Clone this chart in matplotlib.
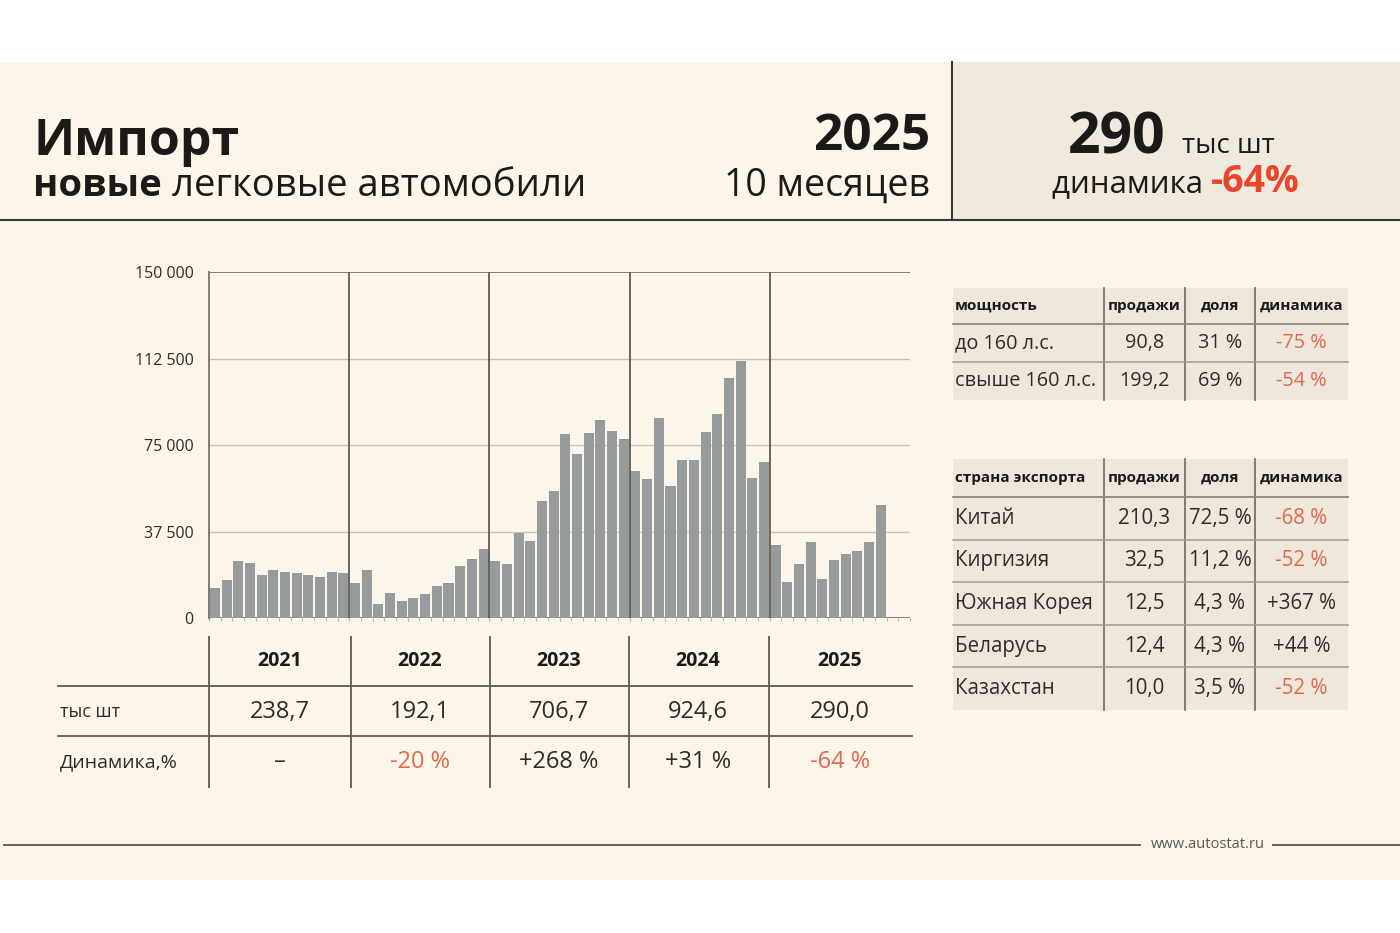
import numpy as np
import matplotlib.pyplot as plt
from matplotlib.lines import Line2D
from matplotlib.patches import Rectangle

plt.rcParams["font.family"] = ["Open Sans", "DejaVu Sans"]

# monthly import of new passenger cars, units
m2021 = [13100, 16300, 24600, 24000, 18800, 20700, 20100, 19400, 18500, 17800, 19800, 19400]
m2022 = [15300, 21000, 6000, 10700, 7400, 8500, 10300, 13900, 15300, 22400, 25700, 29900]
m2023 = [24900, 23500, 36800, 33400, 50800, 54900, 79700, 70900, 80200, 86000, 81000, 77600]
m2024 = [63700, 60100, 86500, 57200, 68400, 68500, 80800, 88400, 103900, 111500, 60900, 67500]
m2025 = [31500, 15700, 23400, 33000, 17000, 25200, 27800, 28900, 33000, 48900]
monthly = m2021 + m2022 + m2023 + m2024 + m2025

y_ticks = [0, 37500, 75000, 112500, 150000]
y_labels = ["0", "37 500", "75 000", "112 500", "150 000"]

years = ["2021", "2022", "2023", "2024", "2025"]
year_totals = ["238,7", "192,1", "706,7", "924,6", "290,0"]
year_dyn = ["–", "-20 %", "+268 %", "+31 %", "-64 %"]

power_header = ["мощность", "продажи", "доля", "динамика"]
power_rows = [
    ["до 160 л.с.", "90,8", "31 %", "-75 %"],
    ["свыше 160 л.с.", "199,2", "69 %", "-54 %"],
]

country_header = ["страна экспорта", "продажи", "доля", "динамика"]
country_rows = [
    ["Китай", "210,3", "72,5 %", "-68 %"],
    ["Киргизия", "32,5", "11,2 %", "-52 %"],
    ["Южная Корея", "12,5", "4,3 %", "+367 %"],
    ["Беларусь", "12,4", "4,3 %", "+44 %"],
    ["Казахстан", "10,0", "3,5 %", "-52 %"],
]

CREAM = "#fcf5e9"
BEIGE = "#f0e9dd"
CELL = "#efe7db"
BAR = "#979b9c"
DARK = "#1b1a18"
TXT = "#2e2c2a"
RED = "#e8452c"
RED_SOFT = "#e2684f"
LINE = "#5d5a55"

W, H = 1400, 933
fig = plt.figure(figsize=(14, 9.33), dpi=100)
fig.patch.set_facecolor("white")
renderer = fig.canvas.get_renderer()


def fx(x):
    return x / W


def fy(y):
    return 1 - y / H


def hline(x0, x1, y, color=LINE, lw=1.3):
    fig.add_artist(Line2D([fx(x0), fx(x1)], [fy(y), fy(y)], color=color, lw=lw,
                          transform=fig.transFigure))


def vline(x, y0, y1, color=LINE, lw=1.3):
    fig.add_artist(Line2D([fx(x), fx(x)], [fy(y0), fy(y1)], color=color, lw=lw,
                          transform=fig.transFigure))


def rect(x0, y0, x1, y1, color):
    fig.add_artist(Rectangle((fx(x0), fy(y1)), (x1 - x0) / W, (y1 - y0) / H,
                             transform=fig.transFigure, color=color, lw=0, zorder=0))


def text(x, y, s, **kw):
    kw.setdefault("color", TXT)
    return fig.text(fx(x), fy(y), s, **kw)


def after(prev, y, s, gap=0, **kw):
    # continue on the same baseline right after another text
    bb = prev.get_window_extent(renderer)
    return text(bb.x1 + gap, y, s, va="baseline", **kw)


# background panels
rect(0, 62, W, 880, CREAM)
rect(952, 62, W, 220, BEIGE)
hline(0, W, 220, color="#3a3835", lw=1.5)
vline(952, 62, 220, color="#3a3835", lw=1.5)

# header
text(33, 155, "Импорт", fontsize=36, fontweight="bold", color=DARK, va="baseline")
t = text(33, 196, "новые ", fontsize=27.5, fontweight="bold", color=DARK, va="baseline")
after(t, 196, "легковые автомобили", fontsize=27.5, color=DARK)
text(930, 150, "2025", fontsize=37, fontweight="bold", color=DARK, ha="right", va="baseline")
text(930, 196, "10 месяцев", fontsize=27, color=DARK, ha="right", va="baseline")

t = text(1068, 153, "290", fontsize=41, fontweight="bold", color=DARK, va="baseline")
after(t, 153, "тыс шт", gap=16, fontsize=20, color=DARK)
t = text(1052, 192, "динамика ", fontsize=22.5, color=DARK, va="baseline")
after(t, 192, "-64%", fontsize=27, fontweight="bold", color=RED)

# bar chart
ax = fig.add_axes([fx(209), fy(618), 701 / W, 346 / H])
ax.set_facecolor("none")
x = np.arange(len(monthly))
ax.bar(x, monthly, width=0.86, color=BAR, zorder=2)
ax.set_xlim(-0.5, 59.5)
ax.set_ylim(0, 150000)
ax.set_yticks(y_ticks)
ax.set_yticklabels(y_labels, fontsize=11.5, color=TXT)
ax.set_xticks(np.arange(-0.5, 60, 1))
ax.set_xticklabels([])
ax.tick_params(axis="y", length=0, pad=11)
ax.tick_params(axis="x", length=2, color="#b9b3a8", width=0.8)
for v in y_ticks[1:-1]:
    ax.axhline(v, color="#c9c2b6", lw=1.0, zorder=1)
ax.axhline(150000, color="#77736c", lw=1.3, zorder=1)
ax.axhline(0, color="#77736c", lw=1.3, zorder=1)
for b in [11.5, 23.5, 35.5, 47.5]:
    ax.axvline(b, color=LINE, lw=1.3, zorder=3)
for s in ["top", "right", "bottom"]:
    ax.spines[s].set_visible(False)
ax.spines["left"].set_color("#77736c")
ax.spines["left"].set_linewidth(1.3)

# yearly table below chart
col_centers = [280, 420, 559, 698, 840]
for xv in [209, 351, 490, 629, 769]:
    vline(xv, 637, 787)
hline(58, 912, 686)
hline(58, 912, 736)
for cx, yr, tot, dyn in zip(col_centers, years, year_totals, year_dyn):
    text(cx, 661, yr, fontsize=14, fontweight="bold", color=DARK, ha="center", va="center")
    text(cx, 712, tot, fontsize=17, ha="center", va="center")
    text(cx, 762, dyn, fontsize=17, ha="center", va="center",
         color=RED_SOFT if dyn.startswith("-") else TXT)
text(60, 712, "тыс шт", fontsize=13, va="center")
text(60, 762, "Динамика,%", fontsize=14, va="center")


# right tables
col_edges = [953, 1104, 1185, 1255, 1348]


def draw_table(top, head_h, row_h, header, rows, row_fs):
    bottom = top + head_h + row_h * len(rows)
    rect(col_edges[0], top, col_edges[-1], bottom, CELL)
    for xv in col_edges[1:-1]:
        vline(xv, top, bottom, color="#6d6963", lw=1.2)
    hline(col_edges[0], col_edges[-1], top + head_h, color="#8d8880", lw=1.3)
    for i in range(1, len(rows)):
        hline(col_edges[0], col_edges[-1], top + head_h + row_h * i, color="#9d988f", lw=1.1)
    centers = [(a + b) / 2 for a, b in zip(col_edges[:-1], col_edges[1:])]
    yh = top + head_h / 2
    for j, h in enumerate(header):
        if j == 0:
            text(col_edges[0] + 2, yh, h, fontsize=11, fontweight="bold", color=DARK, va="center")
        else:
            text(centers[j], yh, h, fontsize=11, fontweight="bold", color=DARK,
                 ha="center", va="center")
    for i, row in enumerate(rows):
        yr = top + head_h + row_h * (i + 0.5)
        for j, v in enumerate(row):
            if j == 0:
                text(col_edges[0] + 2, yr, v, fontsize=row_fs, va="center")
            else:
                c = RED_SOFT if (j == 3 and v.startswith("-")) else TXT
                text(centers[j], yr, v, fontsize=row_fs, ha="center", va="center", color=c)


draw_table(288, 36, 38, power_header, power_rows, 14.3)
draw_table(459, 38, 42.6, country_header, country_rows, 14.8)

# footer
hline(4, 1140, 845, color="#55524d", lw=1.3)
hline(1273, W, 845, color="#55524d", lw=1.3)
text(1208, 844, "www.autostat.ru", fontsize=10.5, color="#5a5752", ha="center", va="center")

fig.savefig("out.png", dpi=100, facecolor=fig.get_facecolor())
